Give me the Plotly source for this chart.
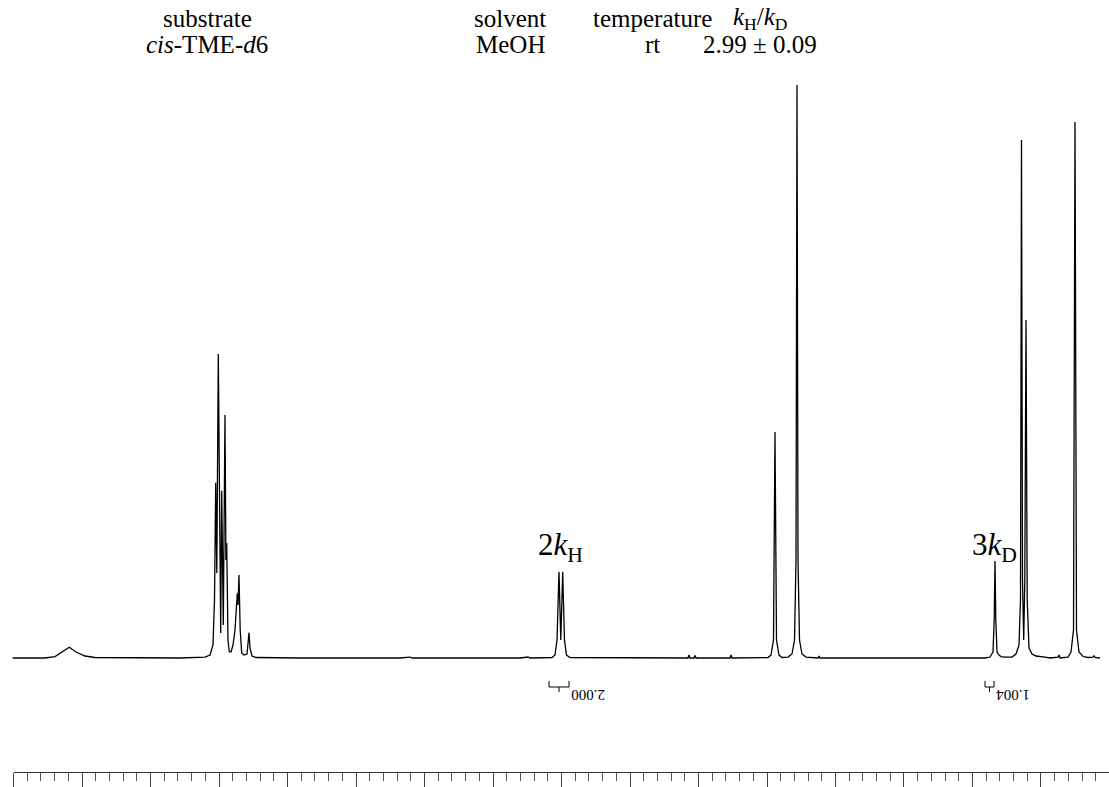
import plotly.graph_objects as go

# ---------------- data ----------------
header_titles = ["substrate", "solvent", "temperature", "<i>k</i><sub>H</sub>/<i>k</i><sub>D</sub>"]
header_values = ["<i>cis</i>-TME-<i>d</i>6", "MeOH", "rt", "2.99 ± 0.09"]

# 1H NMR trace: chemical shift (ppm) and intensity (% of tallest peak)
spectrum_ppm = [
    8.0058, 7.7700, 7.6970, 7.6459, 7.5927, 7.5438, 7.4781, 7.4051, 7.1496, 6.7846,
    6.6021, 6.5656, 6.5438, 6.5328, 6.5240, 6.5160, 6.5051, 6.4941, 6.4875, 6.4802,
    6.4686, 6.4562, 6.4496, 6.4438, 6.4343, 6.4248, 6.4124, 6.3978, 6.3832, 6.3664,
    6.3613, 6.3540, 6.3452, 6.3343, 6.3175, 6.2956, 6.2883, 6.2810, 6.2737, 6.2591,
    6.2299, 5.9087, 5.1788, 5.1058, 5.0912, 4.3029, 4.2445, 4.2299, 4.0693, 4.0474,
    4.0328, 4.0182, 4.0051, 3.9912, 3.9781, 3.9635, 3.9379, 3.5730, 3.0766, 3.0693,
    3.0620, 3.0328, 3.0255, 3.0182, 2.7700, 2.7627, 2.7554, 2.4927, 2.4708, 2.4525,
    2.4416, 2.4306, 2.4124, 2.3905, 2.3467, 2.3175, 2.2992, 2.2883, 2.2810, 2.2737,
    2.2627, 2.2445, 2.2153, 2.1277, 2.1204, 2.1131, 1.6751, 0.9087, 0.8722, 0.8503,
    0.8416, 0.8357, 0.8299, 0.8211, 0.8065, 0.7919, 0.7627, 0.7116, 0.6824, 0.6605,
    0.6496, 0.6423, 0.6350, 0.6262, 0.6182, 0.6094, 0.6007, 0.5875, 0.5656, 0.5365,
    0.4708, 0.4343, 0.3759, 0.3686, 0.3613, 0.3029, 0.2810, 0.2627, 0.2518, 0.2408,
    0.2226, 0.1934, 0.1569, 0.1204, 0.1131, 0.1058, 0.0693,
]
spectrum_intensity = [
    0.00, 0.00, 0.26, 1.05, 1.87, 1.05, 0.35, 0.09, 0.00, 0.00,
    0.17, 0.52, 2.27, 10.12, 30.59, 14.83, 53.06, 10.12, 4.36, 29.20,
    5.76, 42.41, 17.10, 20.07, 3.14, 1.10, 1.05, 2.27, 4.89, 11.29,
    9.25, 14.49, 4.89, 0.87, 0.52, 0.70, 2.27, 4.42, 1.75, 0.35,
    0.09, 0.00, 0.00, 0.17, 0.00, 0.00, 0.17, 0.00, 0.09, 0.52,
    3.14, 15.06, 3.14, 15.06, 3.14, 0.52, 0.09, 0.00, 0.00, 0.52,
    0.00, 0.00, 0.44, 0.00, 0.00, 0.52, 0.00, 0.09, 0.52, 3.14,
    39.44, 3.14, 0.52, 0.09, 0.17, 0.70, 3.14, 17.10, 100.00, 17.10,
    3.14, 0.70, 0.17, 0.00, 0.35, 0.00, 0.00, 0.00, 0.17, 1.05,
    6.63, 16.93, 6.63, 1.05, 0.52, 0.26, 0.17, 0.17, 0.70, 2.27,
    10.12, 90.40, 13.61, 3.14, 13.61, 58.99, 10.12, 1.75, 0.70, 0.35,
    0.17, 0.00, 0.17, 0.52, 0.00, 0.17, 1.05, 4.89, 93.54, 4.89,
    1.05, 0.26, 0.09, 0.17, 0.44, 0.09, 0.00,
]

# labelled peaks
peak_labels = ["2<i>k</i><sub>H</sub>", "3<i>k</i><sub>D</sub>"]
peak_label_ppm = [4.005, 0.836]

# integration regions (ppm) and values
integral_start = [4.0912, 0.9087]
integral_end = [3.9452, 0.8430]
integral_values = ["2.000", "1.004"]

# ---------------- figure ----------------
W, H = 1109, 787
SERIF = "Liberation Serif, Times New Roman, serif"

fig = go.Figure()

fig.add_trace(go.Scatter(
    x=spectrum_ppm, y=spectrum_intensity, mode="lines",
    line=dict(color="black", width=1.3), hoverinfo="skip", showlegend=False,
))

# integration brackets
br_top, br_mid, br_tick = -4.0, -5.06, -5.93
for s, e in zip(integral_start, integral_end):
    m = (s + e) / 2
    fig.add_trace(go.Scatter(
        x=[s, s, e, e, None, m, m],
        y=[br_top, br_mid, br_mid, br_top, None, br_mid, br_tick],
        mode="lines", line=dict(color="black", width=1),
        hoverinfo="skip", showlegend=False,
    ))

# ruler axis carrier (empty)
fig.add_trace(go.Scatter(x=[8.0, 0.0], y=[None, None], xaxis="x2", yaxis="y",
                         mode="lines", hoverinfo="skip", showlegend=False))

annotations = []
header_x = [207, 510, 652, 760]
for t, v, xc in zip(header_titles, header_values, header_x):
    annotations.append(dict(x=xc / W, y=1 - 18 / H, xref="paper", yref="paper",
                            text=t, showarrow=False, xanchor="center", yanchor="middle",
                            font=dict(family=SERIF, size=25, color="black")))
    annotations.append(dict(x=xc / W, y=1 - 44 / H, xref="paper", yref="paper",
                            text=v, showarrow=False, xanchor="center", yanchor="middle",
                            font=dict(family=SERIF, size=25, color="black")))

for lab, px in zip(peak_labels, peak_label_ppm):
    annotations.append(dict(x=px, y=19.3, xref="x", yref="y", text=lab, showarrow=False,
                            xanchor="center", yanchor="middle",
                            font=dict(family=SERIF, size=31, color="black")))

for e, val in zip(integral_end, integral_values):
    annotations.append(dict(x=e, y=-6.46, xref="x", yref="y", text=val,
                            textangle=180, showarrow=False, xanchor="center",
                            yanchor="middle", xshift=19,
                            font=dict(family=SERIF, size=15, color="black")))

fig.update_layout(
    width=W, height=H,
    margin=dict(l=0, r=0, t=0, b=0, pad=0),
    paper_bgcolor="white", plot_bgcolor="rgba(0,0,0,0)",
    showlegend=False,
    xaxis=dict(domain=[0, 1], range=[8.0985, 0.0036], visible=False, fixedrange=True),
    yaxis=dict(domain=[0, 1], range=[-22.51, 114.83], visible=False, fixedrange=True),
    xaxis2=dict(domain=[13.5 / W, 1], range=[8.0, 0.0036], anchor="free",
                position=(H - 771.5) / H, side="bottom",
                showline=True, linecolor="#333", linewidth=1.2,
                showgrid=False, zeroline=False, showticklabels=False,
                tickmode="linear", tick0=0, dtick=0.5,
                ticks="outside", ticklen=15, tickwidth=1, tickcolor="#444",
                minor=dict(tick0=0, dtick=0.1, ticks="outside", ticklen=8,
                           tickwidth=1, tickcolor="#555", showgrid=False),
                fixedrange=True),
    annotations=annotations,
)

fig.write_html("out.html")
